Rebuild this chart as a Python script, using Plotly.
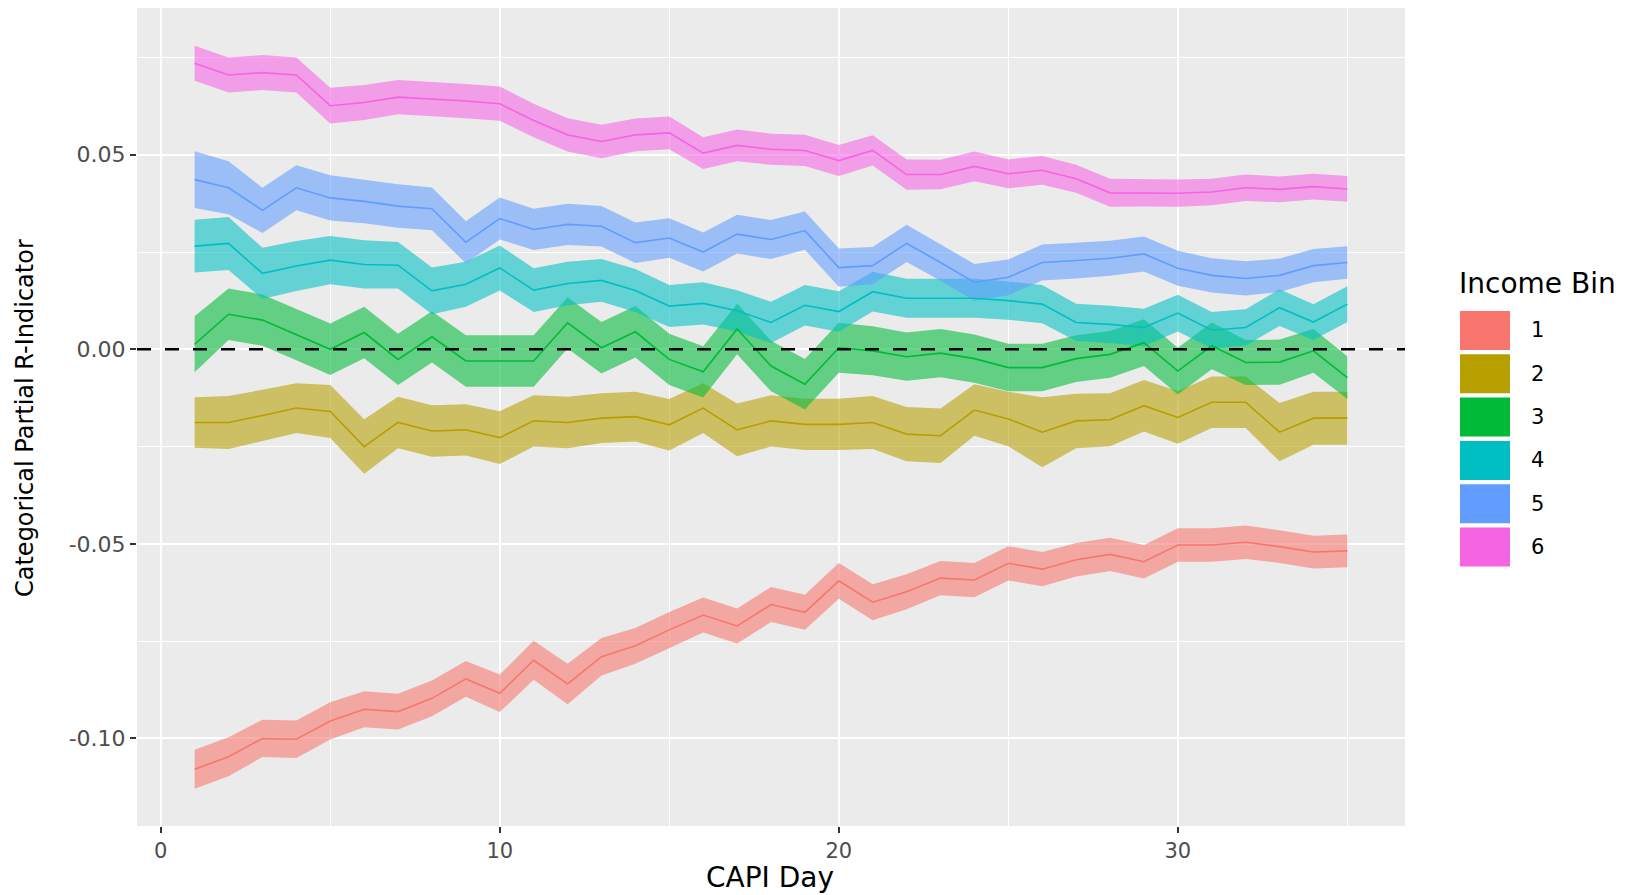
import plotly.graph_objects as go

# ---------------- data ----------------
days = list(range(1, 36))
income_bins = ["1", "2", "3", "4", "5", "6"]
colors = ["#F8766D", "#B79F00", "#00BA38", "#00BFC4", "#619CFF", "#F564E3"]

bin1 = [-0.1079, -0.1047, -0.1000, -0.1002, -0.0955, -0.0925, -0.0931, -0.0897, -0.0847, -0.0884,
        -0.0799, -0.0860, -0.0790, -0.0762, -0.0721, -0.0683, -0.0711, -0.0656, -0.0676, -0.0595,
        -0.0650, -0.0623, -0.0588, -0.0593, -0.0550, -0.0565, -0.0541, -0.0527, -0.0546, -0.0503,
        -0.0503, -0.0496, -0.0507, -0.0521, -0.0518]
bin2 = [-0.0188, -0.0188, -0.0170, -0.0151, -0.0160, -0.0250, -0.0188, -0.0210, -0.0207, -0.0227,
        -0.0184, -0.0188, -0.0177, -0.0173, -0.0194, -0.0151, -0.0207, -0.0184, -0.0193, -0.0193,
        -0.0188, -0.0218, -0.0222, -0.0156, -0.0179, -0.0213, -0.0184, -0.0181, -0.0145, -0.0175,
        -0.0136, -0.0136, -0.0213, -0.0177, -0.0177]
bin3 = [0.0013, 0.0090, 0.0075, 0.0038, 0.0000, 0.0043, -0.0026, 0.0032, -0.0030, -0.0030,
        -0.0030, 0.0068, 0.0004, 0.0045, -0.0026, -0.0058, 0.0052, -0.0043, -0.0090, 0.0004,
        -0.0004, -0.0019, -0.0010, -0.0024, -0.0047, -0.0047, -0.0024, -0.0013, 0.0017, -0.0056,
        0.0009, -0.0034, -0.0033, -0.0004, -0.0073]
bin4 = [0.0265, 0.0272, 0.0195, 0.0214, 0.0229, 0.0218, 0.0216, 0.0150, 0.0167, 0.0209,
        0.0152, 0.0169, 0.0177, 0.0151, 0.0111, 0.0118, 0.0099, 0.0069, 0.0113, 0.0097,
        0.0148, 0.0131, 0.0131, 0.0131, 0.0125, 0.0116, 0.0069, 0.0064, 0.0056, 0.0093,
        0.0049, 0.0056, 0.0107, 0.0070, 0.0116]
bin5 = [0.0436, 0.0415, 0.0357, 0.0415, 0.0389, 0.0380, 0.0368, 0.0361, 0.0275, 0.0336,
        0.0308, 0.0321, 0.0316, 0.0274, 0.0286, 0.0250, 0.0296, 0.0282, 0.0305, 0.0210,
        0.0215, 0.0272, 0.0223, 0.0172, 0.0185, 0.0223, 0.0228, 0.0234, 0.0245, 0.0208,
        0.0190, 0.0182, 0.0190, 0.0215, 0.0223]
bin6 = [0.0735, 0.0705, 0.0711, 0.0705, 0.0626, 0.0634, 0.0648, 0.0643, 0.0638, 0.0631,
        0.0588, 0.0551, 0.0534, 0.0551, 0.0556, 0.0504, 0.0524, 0.0514, 0.0511, 0.0485,
        0.0511, 0.0449, 0.0449, 0.0470, 0.0451, 0.0460, 0.0438, 0.0402, 0.0402, 0.0401,
        0.0404, 0.0415, 0.0411, 0.0418, 0.0412]

# half-widths of the confidence ribbons
se1 = [0.0050, 0.0050, 0.0048, 0.0048, 0.0048, 0.0046, 0.0046, 0.0046, 0.0046, 0.0048,
       0.0050, 0.0052, 0.0048, 0.0046, 0.0046, 0.0045, 0.0045, 0.0045, 0.0045, 0.0046,
       0.0046, 0.0045, 0.0044, 0.0044, 0.0044, 0.0044, 0.0043, 0.0043, 0.0043, 0.0043,
       0.0043, 0.0043, 0.0042, 0.0042, 0.0042]
se2 = [0.0065, 0.0068, 0.0066, 0.0064, 0.0068, 0.0070, 0.0066, 0.0066, 0.0066, 0.0068,
       0.0066, 0.0066, 0.0064, 0.0064, 0.0066, 0.0064, 0.0068, 0.0066, 0.0066, 0.0066,
       0.0068, 0.0070, 0.0070, 0.0066, 0.0070, 0.0090, 0.0070, 0.0068, 0.0066, 0.0068,
       0.0066, 0.0066, 0.0075, 0.0068, 0.0068]
se3 = [0.0072, 0.0066, 0.0066, 0.0066, 0.0066, 0.0066, 0.0066, 0.0066, 0.0066, 0.0066,
       0.0066, 0.0066, 0.0066, 0.0066, 0.0066, 0.0066, 0.0065, 0.0065, 0.0065, 0.0064,
       0.0063, 0.0062, 0.0062, 0.0062, 0.0061, 0.0061, 0.0060, 0.0060, 0.0060, 0.0060,
       0.0060, 0.0058, 0.0058, 0.0056, 0.0055]
se4 = [0.0068, 0.0068, 0.0066, 0.0064, 0.0062, 0.0062, 0.0060, 0.0060, 0.0058, 0.0058,
       0.0056, 0.0056, 0.0055, 0.0055, 0.0054, 0.0054, 0.0053, 0.0053, 0.0052, 0.0052,
       0.0051, 0.0050, 0.0050, 0.0050, 0.0049, 0.0049, 0.0048, 0.0048, 0.0048, 0.0047,
       0.0047, 0.0047, 0.0047, 0.0046, 0.0046]
se5 = [0.0073, 0.0068, 0.0058, 0.0058, 0.0058, 0.0056, 0.0056, 0.0055, 0.0054, 0.0054,
       0.0053, 0.0053, 0.0052, 0.0052, 0.0051, 0.0050, 0.0050, 0.0050, 0.0049, 0.0049,
       0.0048, 0.0048, 0.0047, 0.0047, 0.0046, 0.0046, 0.0046, 0.0045, 0.0045, 0.0045,
       0.0044, 0.0044, 0.0043, 0.0043, 0.0042]
se6 = [0.0045, 0.0045, 0.0045, 0.0045, 0.0046, 0.0045, 0.0044, 0.0044, 0.0044, 0.0044,
       0.0043, 0.0043, 0.0043, 0.0042, 0.0042, 0.0041, 0.0041, 0.0040, 0.0040, 0.0040,
       0.0039, 0.0039, 0.0038, 0.0038, 0.0037, 0.0037, 0.0036, 0.0036, 0.0035, 0.0035,
       0.0034, 0.0034, 0.0033, 0.0033, 0.0033]

x_ticks = [0, 10, 20, 30]
y_ticks = [-0.10, -0.05, 0.00, 0.05]
y_tick_text = ["-0.10", "-0.05", "0.00", "0.05"]

series = [bin1, bin2, bin3, bin4, bin5, bin6]
ses = [se1, se2, se3, se4, se5, se6]

# ---------------- figure ----------------
W, H = 1637, 895
ML, MR, MT, MB = 137, 232, 8, 69
PW, PH = W - ML - MR, H - MT - MB


def hex_rgba(h, a):
    h = h.lstrip("#")
    return "rgba(%d,%d,%d,%.3f)" % (int(h[0:2], 16), int(h[2:4], 16), int(h[4:6], 16), a)


def px(xpix):
    return (xpix - ML) / PW


def py(ypix):
    return 1 - (ypix - MT) / PH


fig = go.Figure()

# ribbons
for name, vals, se, col in zip(income_bins, series, ses, colors):
    upper = [v + s for v, s in zip(vals, se)]
    lower = [v - s for v, s in zip(vals, se)]
    fig.add_trace(go.Scatter(
        x=days + days[::-1], y=upper + lower[::-1],
        fill="toself", fillcolor=hex_rgba(col, 0.58),
        line=dict(width=0), mode="lines", showlegend=False, hoverinfo="skip"))

# lines
for name, vals, col in zip(income_bins, series, colors):
    fig.add_trace(go.Scatter(
        x=days, y=vals, mode="lines", name=name,
        line=dict(color=col, width=1.6), showlegend=False))

# zero reference line
fig.add_hline(y=0, line=dict(color="black", width=2.6, dash="14px,14px"), layer="above")

FONT = "DejaVu Sans, Liberation Sans, Arial, sans-serif"

fig.update_layout(
    width=W, height=H,
    margin=dict(l=ML, r=MR, t=MT, b=MB, pad=0),
    paper_bgcolor="white", plot_bgcolor="#EBEBEB",
    font=dict(family=FONT, color="#4D4D4D", size=21),
    showlegend=False,
    xaxis=dict(
        range=[-0.7, 36.7], tickvals=x_ticks, ticktext=[str(t) for t in x_ticks],
        showgrid=True, gridcolor="white", gridwidth=2.4,
        minor=dict(tickvals=[5, 15, 25, 35], showgrid=True, gridcolor="white", gridwidth=1.2, ticks=""),
        ticks="outside", ticklen=6, tickwidth=2.2, tickcolor="#333333",
        tickfont=dict(size=21, color="#4D4D4D"),
        zeroline=False, showline=False,
    ),
    yaxis=dict(
        range=[-0.1225, 0.0877], tickvals=y_ticks, ticktext=y_tick_text,
        showgrid=True, gridcolor="white", gridwidth=2.4,
        minor=dict(tickvals=[-0.125, -0.075, -0.025, 0.025, 0.075], showgrid=True,
                   gridcolor="white", gridwidth=1.2, ticks=""),
        ticks="outside", ticklen=6, tickwidth=2.2, tickcolor="#333333",
        tickfont=dict(size=22, color="#4D4D4D"),
        zeroline=False, showline=False,
    ),
)

# axis titles
fig.add_annotation(text="CAPI Day", xref="paper", yref="paper", x=px(770), y=py(877),
                   showarrow=False, font=dict(size=28, color="black", family=FONT),
                   xanchor="center", yanchor="middle")
fig.add_annotation(text="Categorical Partial R-Indicator", xref="paper", yref="paper",
                   x=px(25), y=py(418), textangle=-90, showarrow=False,
                   font=dict(size=24, color="black", family=FONT),
                   xanchor="center", yanchor="middle")

# legend (drawn manually to reproduce ggplot's large keys)
fig.add_annotation(text="Income Bin", xref="paper", yref="paper", x=px(1457), y=py(283),
                   showarrow=False, font=dict(size=28, color="black", family=FONT),
                   xanchor="left", yanchor="middle")
key_top0, key_step, key_h = 311, 43.3, 39
for i, (name, col) in enumerate(zip(income_bins, colors)):
    top = key_top0 + i * key_step
    fig.add_shape(type="rect", xref="paper", yref="paper",
                  x0=px(1460), x1=px(1510), y0=py(top + key_h), y1=py(top),
                  fillcolor=col, line=dict(width=0), layer="above")
    fig.add_annotation(text=name, xref="paper", yref="paper", x=px(1529), y=py(top + key_h / 2),
                       showarrow=False, font=dict(size=21, color="black", family=FONT),
                       xanchor="left", yanchor="middle")

fig.write_html("out.html", config={"displayModeBar": False},
               post_script="document.body.style.margin='0px';")
